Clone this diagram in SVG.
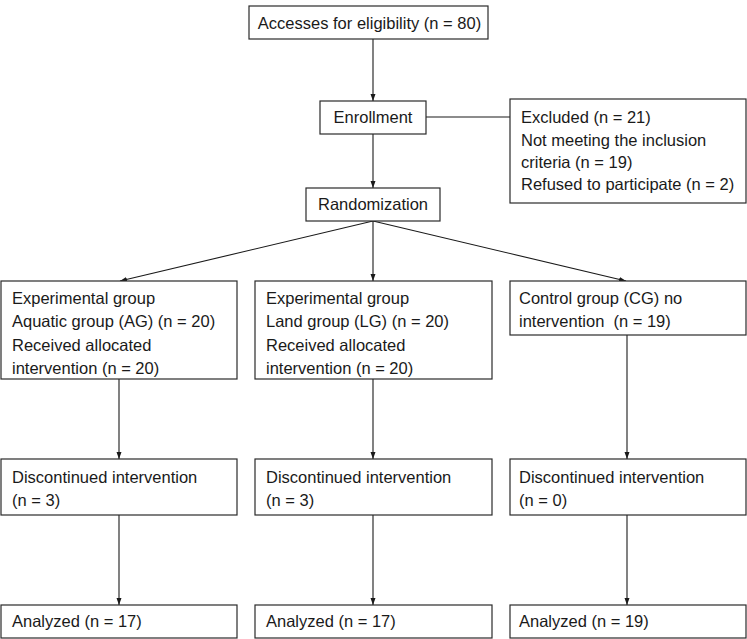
<svg xmlns="http://www.w3.org/2000/svg" width="747" height="639" viewBox="0 0 747 639">
<style>
  .box { fill: #ffffff; stroke: #2a2a2a; stroke-width: 1.2; }
  .t { font-family: "Liberation Sans", Arial, sans-serif; font-size: 16.5px; fill: #1a1a1a; white-space: pre; }
  .c { text-anchor: middle; }
  .ln { stroke: #1a1a1a; stroke-width: 1.1; fill: none; }
  .ar { stroke: #1a1a1a; stroke-width: 1.1; fill: none; marker-end: url(#ah); }
</style>
<defs>
  <marker id="ah" viewBox="0 0 7 6" refX="7" refY="3" markerWidth="7" markerHeight="6" markerUnits="userSpaceOnUse" orient="auto">
    <path d="M0,0.5 L7,3 L0,5.5 Z" fill="#1a1a1a"/>
  </marker>
</defs>
<rect width="747" height="639" fill="#ffffff"/>

<g id="connectors">
  <line class="ar" x1="373" y1="39" x2="373" y2="101"/>
  <line class="ln" x1="426" y1="117" x2="510" y2="117"/>
  <line class="ar" x1="373" y1="134" x2="373" y2="188"/>
  <line class="ar" x1="373" y1="221" x2="120" y2="281"/>
  <line class="ar" x1="373" y1="221" x2="373" y2="281"/>
  <line class="ar" x1="373" y1="221" x2="626" y2="281"/>
  <line class="ar" x1="119" y1="379" x2="119" y2="459"/>
  <line class="ar" x1="373" y1="379" x2="373" y2="459"/>
  <line class="ar" x1="627" y1="335" x2="627" y2="459"/>
  <line class="ar" x1="119" y1="515" x2="119" y2="605"/>
  <line class="ar" x1="373" y1="515" x2="373" y2="605"/>
  <line class="ar" x1="627" y1="515" x2="627" y2="605"/>
</g>

<g id="eligibility">
  <rect class="box" x="249" y="6" width="239" height="33"/>
  <text class="t c" x="369.5" y="29">Accesses for eligibility (n = 80)</text>
</g>
<g id="enrollment">
  <rect class="box" x="320" y="101" width="106" height="33"/>
  <text class="t c" x="373" y="123">Enrollment</text>
</g>
<g id="excluded">
  <rect class="box" x="510" y="99" width="236" height="104"/>
  <text class="t" x="521" y="123">Excluded (n = 21)</text>
  <text class="t" x="521" y="146">Not meeting the inclusion</text>
  <text class="t" x="521" y="168">criteria (n = 19)</text>
  <text class="t" x="521" y="190">Refused to participate (n = 2)</text>
</g>
<g id="randomization">
  <rect class="box" x="306" y="188" width="134" height="33"/>
  <text class="t c" x="373" y="210">Randomization</text>
</g>

<g id="aquatic">
  <rect class="box" x="1" y="281" width="236" height="98"/>
  <text class="t" x="12" y="304">Experimental group</text>
  <text class="t" x="12" y="327">Aquatic group (AG) (n = 20)</text>
  <text class="t" x="12" y="351">Received allocated</text>
  <text class="t" x="12" y="374">intervention (n = 20)</text>
</g>
<g id="land">
  <rect class="box" x="255" y="281" width="237" height="98"/>
  <text class="t" x="266" y="304">Experimental group</text>
  <text class="t" x="266" y="327">Land group (LG) (n = 20)</text>
  <text class="t" x="266" y="351">Received allocated</text>
  <text class="t" x="266" y="374">intervention (n = 20)</text>
</g>
<g id="control">
  <rect class="box" x="510" y="281" width="236" height="54"/>
  <text class="t" x="519" y="304">Control group (CG) no</text>
  <text class="t" x="519" y="327">intervention  (n = 19)</text>
</g>

<g id="disc-ag">
  <rect class="box" x="1" y="459" width="236" height="56"/>
  <text class="t" x="12" y="483">Discontinued intervention</text>
  <text class="t" x="12" y="506">(n = 3)</text>
</g>
<g id="disc-lg">
  <rect class="box" x="255" y="459" width="237" height="56"/>
  <text class="t" x="266" y="483">Discontinued intervention</text>
  <text class="t" x="266" y="506">(n = 3)</text>
</g>
<g id="disc-cg">
  <rect class="box" x="510" y="459" width="236" height="56"/>
  <text class="t" x="519" y="483">Discontinued intervention</text>
  <text class="t" x="519" y="506">(n = 0)</text>
</g>

<g id="anal-ag">
  <rect class="box" x="1" y="605" width="236" height="33"/>
  <text class="t" x="12" y="627">Analyzed (n = 17)</text>
</g>
<g id="anal-lg">
  <rect class="box" x="255" y="605" width="237" height="33"/>
  <text class="t" x="266" y="627">Analyzed (n = 17)</text>
</g>
<g id="anal-cg">
  <rect class="box" x="510" y="605" width="236" height="33"/>
  <text class="t" x="519" y="627">Analyzed (n = 19)</text>
</g>
</svg>
